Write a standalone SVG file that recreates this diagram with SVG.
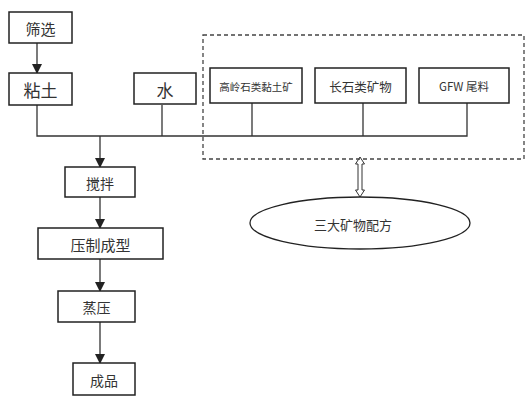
<svg xmlns="http://www.w3.org/2000/svg" width="531" height="400" viewBox="0 0 531 400">
<style>
.box{fill:#fff;stroke:#222;stroke-width:1.5}
.ln{fill:none;stroke:#333;stroke-width:1.3}
text{font-family:"Noto Sans CJK SC","Liberation Serif",serif;fill:#333;text-anchor:middle;dominant-baseline:central}
</style>
<defs>
<marker id="ah" markerWidth="10" markerHeight="10" refX="9" refY="5" orient="auto" markerUnits="userSpaceOnUse">
<path d="M0,0 L10,5 L0,10 Z" fill="#222"/>
</marker>
</defs>
<rect width="531" height="400" fill="#fff"/>
<g id="connectors">
<line class="ln" x1="37" y1="43" x2="37" y2="73" marker-end="url(#ah)"/>
<polyline class="ln" points="37,105 37,136 467,136 467,103"/>
<line class="ln" x1="162" y1="105" x2="162" y2="136"/>
<line class="ln" x1="252" y1="103" x2="252" y2="136"/>
<line class="ln" x1="363" y1="103" x2="363" y2="136"/>
<line class="ln" x1="100" y1="136" x2="100" y2="167" marker-end="url(#ah)"/>
<line class="ln" x1="100" y1="197" x2="100" y2="228" marker-end="url(#ah)"/>
<line class="ln" x1="100" y1="259" x2="100" y2="291" marker-end="url(#ah)"/>
<line class="ln" x1="100" y1="322" x2="100" y2="363" marker-end="url(#ah)"/>
<polygon points="360,157 364.5,164 362,164 362,190 364.5,190 360,197 355.5,190 358,190 358,164 355.5,164" fill="#fff" stroke="#333" stroke-width="1"/>
</g>
<g id="group-minerals">
<rect x="203" y="35" width="321" height="124" fill="none" stroke="#444" stroke-width="1.3" stroke-dasharray="4,3"/>
</g>
<g id="n-shaixuan"><rect class="box" x="9" y="12" width="63" height="31"/><text x="40.5" y="28" font-size="15">筛选</text></g>
<g id="n-niantu"><rect class="box" x="9" y="73" width="63" height="32"/><text x="40.5" y="89.5" font-size="17">粘土</text></g>
<g id="n-shui"><rect class="box" x="134" y="73" width="62" height="31"/><text x="165" y="89.5" font-size="17">水</text></g>
<g id="n-gaoling"><rect class="box" x="210" y="68" width="92" height="35"/><text x="256" y="86" font-size="10.5">高岭石类黏土矿</text></g>
<g id="n-changshi"><rect class="box" x="315" y="68" width="91" height="35"/><text x="360.5" y="86" font-size="12.5">长石类矿物</text></g>
<g id="n-gfw"><rect class="box" x="419" y="68" width="90" height="35"/><text x="464" y="86" font-size="11.5">GFW 尾料</text></g>
<g id="n-jiaoban"><rect class="box" x="65" y="167" width="70" height="30"/><text x="100" y="183" font-size="14">搅拌</text></g>
<g id="n-yazhi"><rect class="box" x="38" y="228" width="125" height="31"/><text x="100.5" y="244" font-size="15">压制成型</text></g>
<g id="n-zhengya"><rect class="box" x="58" y="291" width="77" height="31"/><text x="96.5" y="307" font-size="14">蒸压</text></g>
<g id="n-chengpin"><rect class="box" x="73" y="363" width="62" height="32"/><text x="104" y="380" font-size="14">成品</text></g>
<g id="n-peifang"><ellipse cx="360" cy="223" rx="110" ry="26" fill="#fff" stroke="#222" stroke-width="1.3"/><text x="353" y="224" font-size="13">三大矿物配方</text></g>
</svg>
